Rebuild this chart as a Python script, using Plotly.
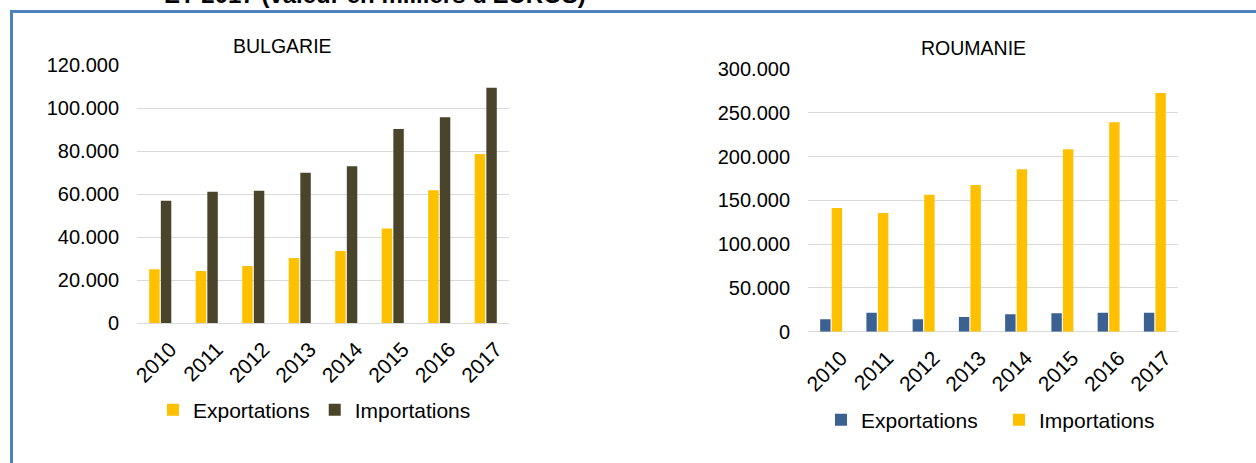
import plotly.graph_objects as go

# Échanges commerciaux 2010-2017 (valeur en milliers d'euros)
annees = ["2010", "2011", "2012", "2013", "2014", "2015", "2016", "2017"]

bg_exportations = [25000, 24200, 26500, 30200, 33500, 44000, 61700, 78600]
bg_importations = [56900, 61100, 61500, 69900, 72900, 90200, 95700, 109400]

ro_exportations = [14200, 21700, 14200, 16800, 19900, 21000, 21700, 21700]
ro_importations = [141300, 135600, 156500, 167500, 185500, 208300, 239100, 272600]

bg_ticks = [0, 20000, 40000, 60000, 80000, 100000, 120000]
ro_ticks = [0, 50000, 100000, 150000, 200000, 250000, 300000]

JAUNE = "#FFC000"
OLIVE = "#4A452A"
BLEU = "#3A6192"
GRILLE = "#D9D9D9"
CADRE = "#4F81BD"
FONT = "Liberation Sans, Arial, sans-serif"

W, H = 1256, 463


def fx(px):
    return px / W


def fy(py):
    return (H - py) / H


def fmt(v):
    return f"{v:,}".replace(",", ".") if v else "0"


fig = go.Figure()

fig.add_trace(go.Bar(x=annees, y=bg_exportations, name="Exportations",
                     marker=dict(color=JAUNE, line=dict(width=0)),
                     xaxis="x", yaxis="y", legend="legend"))
fig.add_trace(go.Bar(x=annees, y=bg_importations, name="Importations",
                     marker=dict(color=OLIVE, line=dict(width=0)),
                     xaxis="x", yaxis="y", legend="legend"))
fig.add_trace(go.Bar(x=annees, y=ro_exportations, name="Exportations",
                     marker=dict(color=BLEU, line=dict(width=0)),
                     xaxis="x2", yaxis="y2", legend="legend2"))
fig.add_trace(go.Bar(x=annees, y=ro_importations, name="Importations",
                     marker=dict(color=JAUNE, line=dict(width=0)),
                     xaxis="x2", yaxis="y2", legend="legend2"))

xcommon = dict(tickangle=-45, tickfont=dict(size=21, color="#000000", family=FONT),
               showgrid=False, showline=False, ticks="", zeroline=False,
               ticklabelshift=10, ticklabelstandoff=9, fixedrange=True)
ycommon = dict(showgrid=True, gridcolor=GRILLE, gridwidth=1.3, zeroline=True,
               zerolinecolor=GRILLE, zerolinewidth=1.3, showline=False, ticks="",
               tickfont=dict(size=20, color="#000000", family=FONT),
               ticklabelstandoff=17, fixedrange=True)

legcommon = dict(orientation="h", font=dict(size=21, color="#000000", family=FONT),
                 bgcolor="rgba(0,0,0,0)", xanchor="left", yanchor="middle",
                 itemclick=False, itemdoubleclick=False)

fig.update_layout(
    width=W, height=H,
    margin=dict(l=0, r=0, t=0, b=0, pad=0, autoexpand=False),
    paper_bgcolor="#FFFFFF", plot_bgcolor="#FFFFFF",
    font=dict(family=FONT, color="#000000"),
    barmode="group", bargap=0.5, bargroupgap=0.1,
    xaxis=dict(domain=[fx(137), fx(509)], anchor="y", **xcommon),
    yaxis=dict(domain=[fy(323), fy(65)], anchor="x", range=[0, 120000],
               tickvals=bg_ticks, ticktext=[fmt(v) for v in bg_ticks], **ycommon),
    xaxis2=dict(domain=[fx(808), fx(1178)], anchor="y2", **xcommon),
    yaxis2=dict(domain=[fy(331.7), fy(69)], anchor="x2", range=[0, 300000],
                tickvals=ro_ticks, ticktext=[fmt(v) for v in ro_ticks], **ycommon),
    legend=dict(x=fx(153), y=fy(410), **legcommon),
    legend2=dict(x=fx(821), y=fy(420), entrywidthmode="pixels", entrywidth=133,
                 **legcommon),
    showlegend=True,
    annotations=[
        dict(text="BULGARIE", x=fx(282), y=fy(46), xref="paper", yref="paper",
             showarrow=False, xanchor="center", yanchor="middle",
             font=dict(size=19.5, color="#000000", family=FONT)),
        dict(text="ROUMANIE", x=fx(973), y=fy(48), xref="paper", yref="paper",
             showarrow=False, xanchor="center", yanchor="middle",
             font=dict(size=19.5, color="#000000", family=FONT)),
        dict(text="<b>ET 2017 (valeur en milliers d'EUROS)</b>", x=fx(162), y=fy(5),
             xref="paper", yref="paper", showarrow=False, xanchor="left",
             yanchor="bottom", yshift=-5,
             font=dict(size=24, color="#000000", family=FONT)),
    ],
    shapes=[
        dict(type="line", xref="paper", yref="paper", x0=fx(11.5), x1=fx(11.5),
             y0=fy(10), y1=0, line=dict(color=CADRE, width=3)),
        dict(type="line", xref="paper", yref="paper", x0=fx(10), x1=1,
             y0=fy(11.5), y1=fy(11.5), line=dict(color=CADRE, width=3)),
    ],
)

fig.write_html("out.html")
